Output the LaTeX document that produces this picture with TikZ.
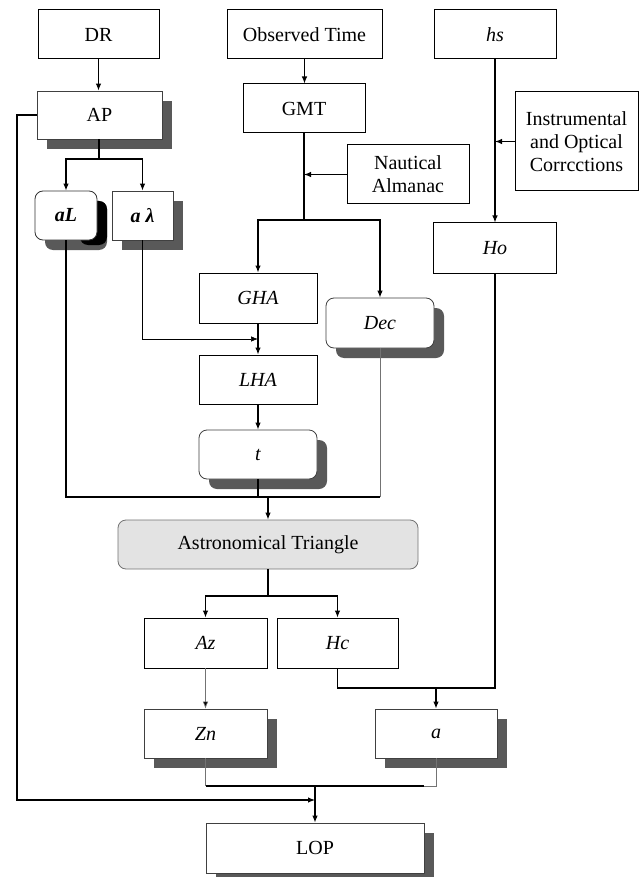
\documentclass[tikz,border=0pt]{standalone}
\usepackage{fontspec}
\setmainfont{Liberation Serif}
\usetikzlibrary{arrows.meta,shadows}
\definecolor{shd}{HTML}{595959}
\begin{document}
\begin{tikzpicture}[x=1pt,y=-1pt,
  sz/.style 2 args={minimum width=#1pt, minimum height=#2pt},
  box/.style={draw=black, line width=1pt, fill=white, inner sep=0pt, align=center,
              font=\rmfamily\fontsize{20}{23}\selectfont},
  sbox/.style={box, draw=black!75, line width=0.8pt,
               drop shadow={shadow xshift=10pt, shadow yshift=-10pt, fill=shd, opacity=1}},
  rnd/.style={rounded corners=8pt},
  conn/.style={line width=1.1pt, draw=black},
  arr/.style={conn, -{Latex[length=7pt,width=5.5pt]}},
  thinl/.style={line width=0.6pt, draw=black!55},
  thinarr/.style={line width=0.7pt, draw=black, -{Latex[length=7pt,width=5.5pt]}},
  thingarr/.style={thinl, -{Latex[length=7pt,width=5.5pt,fill=black]}}
]
\useasboundingbox (0,0) rectangle (641,877);
\fill[white] (0,0) rectangle (641,877);

% top row
\node[box, sz={121}{49}] (dr) at (98.5,34.5) {DR};
\node[box, sz={155}{49}] (obs) at (304.5,34.5) {Observed Time};
\node[box, sz={122}{49}] (hs) at (495,34.5) {\itshape hs};

\node[sbox, sz={125}{48}] (ap) at (99.5,115) {AP};
\node[box, sz={122}{49}] (gmt) at (304,108.5) {GMT};
\node[box, sz={123}{99}] (instr) at (576.5,141.5) {Instrumental\\and Optical\\Corrcctions};
\node[box, sz={122}{59}] (na) at (408,174.5) {Nautical\\Almanac};

% aL with special shadow
\fill[shd, rounded corners=8pt] (45,201) rectangle (107,250);
\fill[black, rounded corners=8pt] (80,201) rectangle (107,245);
\node[box, rnd, draw=black!80, line width=0.8pt, sz={62}{49}] (al) at (66,215.5) {\textbf{\textit{aL}}};
\node[sbox, sz={61}{49}] (alam) at (142.5,215.5) {\textbf{\textit{a λ}}};

\node[box, sz={123}{50}] (ho) at (495,248) {\itshape Ho};
\node[box, sz={118}{50}] (gha) at (258,298) {\itshape GHA};
\node[sbox, rnd, sz={108}{50}] (dec) at (380,323) {\itshape Dec};
\node[box, sz={118}{49}] (lha) at (258,379.5) {\itshape LHA};
\node[sbox, rnd, sz={118}{49}] (t) at (258,454.5) {\itshape t};

\node[box, rnd, fill=black!11, draw=black!55, line width=0.8pt, sz={300}{49}] (at) at (268,544.5) {Astronomical Triangle};

\node[box, line width=0.9pt, sz={123}{50}] (az) at (205.5,643) {\itshape Az};
\node[box, line width=0.9pt, sz={121}{50}] (hc) at (337.5,643) {\itshape Hc};
\node[sbox, sz={123}{49}] (zn) at (205.5,733.5) {\itshape Zn};
\node[sbox, sz={122}{49}] (a) at (436,733.5) {\itshape a};
\node[sbox, sz={218}{50}] (lop) at (315,848) {LOP};

% junctions
\coordinate (jAP) at (99,159);
\coordinate (jGMT) at (304,220);
\coordinate (jNA) at (304,174.5);
\coordinate (jIn) at (495,141.5);
\coordinate (jLam) at (258,339);
\coordinate (jBus) at (268,497);
\coordinate (jAT) at (268,596);
\coordinate (jHc) at (436,688);
\coordinate (jBot) at (315,786);
\coordinate (jLeft) at (315,800);

% connectors
\draw[arr] (dr.south) -- (dr.south |- ap.north);
\draw[arr] (ap.west) -- (17,115) |- (jLeft);
\draw[conn] (ap.south -| jAP) -- (jAP);
\draw[arr] (jAP) -| (al.north);
\draw[arr] (jAP) -| (alam.north);
\draw[thinarr] (alam.south) |- (jLam);

\draw[arr] (obs.south) -- (obs.south |- gmt.north);
\draw[conn] (gmt.south) -- (jGMT);
\draw[arr] (na.west) -- (jNA);
\draw[arr] (jGMT) -| (gha.north);
\draw[arr] (jGMT) -| (dec.north);

\draw[arr] (hs.south) -- (ho.north);
\draw[arr] (instr.west) -- (jIn);

\draw[arr] (gha) -- (lha);
\draw[arr] (lha) -- (t);

\draw[conn] (al.south) -- (al.south |- jBus) -- (dec.south |- jBus);
\draw[thinl] (dec.south) -- (dec.south |- jBus);
\draw[conn] (t.south) -- (t.south |- jBus);
\draw[arr] (jBus) -- (at.north);

\draw[conn] (at.south) -- (jAT);
\draw[arr] (jAT) -| (az.north);
\draw[arr] (jAT) -| (hc.north);
\draw[thingarr] (az.south) -- (zn.north);

\draw[conn] (hc.south) |- (ho.south |- jHc) -- (ho.south);
\draw[arr] (jHc) -- (a.north);

\draw[thinl] (zn.south) -- (zn.south |- jBot);
\draw[thinl] (a.south) -- (a.south |- jBot) -- (424,786);
\draw[conn] (zn.south |- jBot) -- (424,786);
\draw[arr] (jBot) -- (lop.north);
\end{tikzpicture}
\end{document}
